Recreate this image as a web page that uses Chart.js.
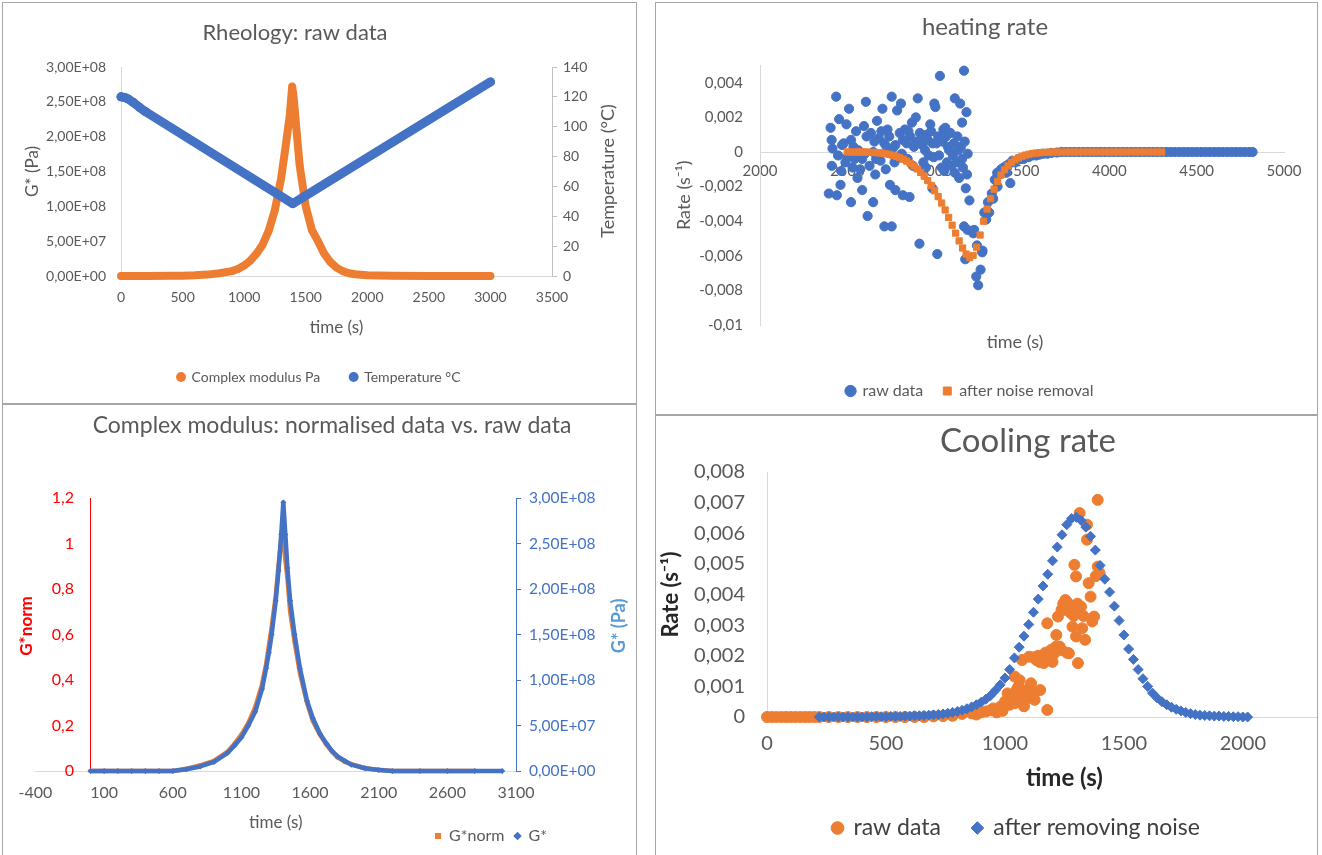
<!DOCTYPE html>
<html>
<head>
<meta charset="utf-8">
<title>Rheology charts</title>
<script src="https://cdn.jsdelivr.net/npm/chart.js@4.4.1/dist/chart.umd.min.js"></script>
<style>
  body { margin: 0; width: 1322px; height: 855px; overflow: hidden; background: #fff; position: relative; }
  .panel { position: absolute; box-sizing: border-box; border: 1px solid #a6a6a6; overflow: hidden; background: #fff; }
  .panel canvas { position: absolute; left: 0; top: 0; }
  #p1 { left: 2px; top: 2px; width: 635px; height: 402px; }
  #p2 { left: 2px; top: 404px; width: 635px; height: 470px; }
  #p3 { left: 655px; top: 2px; width: 663px; height: 413px; }
  #p4 { left: 655px; top: 415px; width: 663px; height: 460px; }
</style>
</head>
<body>
<div class="panel" id="p1"><canvas id="c1" width="632" height="399"></canvas></div>
<div class="panel" id="p2"><canvas id="c2" width="632" height="451"></canvas></div>
<div class="panel" id="p3"><canvas id="c3" width="660" height="411"></canvas></div>
<div class="panel" id="p4"><canvas id="c4" width="744" height="439"></canvas></div>
<script>
// ---- Rheology: raw data ----
const modTime = [0, 200, 400, 500, 600, 700, 800, 850, 900, 950, 1000, 1050, 1100, 1150, 1200, 1250, 1300, 1340, 1370, 1390,
  1400, 1420, 1450, 1500, 1550, 1600, 1650, 1700, 1750, 1800, 1850, 1900, 2000, 2200, 2500, 3000];
const modVal = [0, 0, 2e5, 5e5, 1e6, 2e6, 4e6, 5.5e6, 7e6, 1e7, 1.5e7, 2.2e7, 3.2e7, 4.5e7, 6.5e7, 9.5e7, 1.4e8, 1.9e8, 2.3e8, 2.72e8,
  2.6e8, 2.2e8, 1.6e8, 1.0e8, 6.6e7, 5.0e7, 3.2e7, 2.0e7, 1.2e7, 7e6, 4e6, 2.5e6, 1e6, 3e5, 0, 0];
const tempTime = [0, 30, 60, 100, 150, 200, 1395, 3000];
const tempVal = [120, 119.6, 118.5, 116.2, 113, 110, 48.5, 130];

// ---- Complex modulus: normalised vs raw ----
const gTime = [0, 100, 200, 300, 400, 500, 600, 700, 800, 900, 1000, 1050, 1100, 1150, 1200, 1250, 1280, 1300, 1320, 1350,
  1370, 1390, 1405, 1420, 1435, 1455, 1487, 1526, 1578, 1620, 1672, 1720, 1760, 1800, 1854, 1900, 2000, 2100, 2200, 2400,
  2600, 2800, 3000];
const gVal = [0, 0, 0, 0, 0, 0, 0, 2e6, 5e6, 1e7, 2e7, 2.8e7, 3.7e7, 5e7, 6.5e7, 9e7, 1.13e8, 1.3e8, 1.5e8, 1.87e8,
  2.2e8, 2.6e8, 2.95e8, 2.6e8, 2.23e8, 1.87e8, 1.5e8, 1.13e8, 7.7e7, 5.8e7, 4.1e7, 3e7, 2.2e7, 1.6e7, 1.1e7, 7e6, 3e6, 1e6, 0, 0,
  0, 0, 0];
const normTime = [0, 100, 200, 300, 400, 500, 600, 700, 800, 900, 1000, 1050, 1100, 1150, 1200, 1250, 1280, 1300, 1320, 1350,
  1370, 1390, 1400, 1410, 1420, 1435, 1455, 1487, 1526, 1578, 1620, 1672, 1720, 1760, 1800, 1854, 1900, 2000, 2100, 2200,
  2400, 2600, 2800];
const normVal = [0, 0, 0, 0, 0, 0, 0, 0.01, 0.025, 0.045, 0.085, 0.12, 0.16, 0.21, 0.28, 0.38, 0.47, 0.55, 0.63, 0.77,
  0.9, 1.02, 1.08, 0.98, 0.93, 0.85, 0.7, 0.57, 0.43, 0.3, 0.22, 0.16, 0.115, 0.085, 0.06, 0.04, 0.03, 0.012, 0.005, 0,
  0, 0, 0];

// ---- heating rate ----
const heatRaw = [
  [2394, -0.0024], [2404, 0.0014], [2410, 0.0007], [2411, -0.0008], [2415, 0.0002], [2436, 0.0032], [2440, -0.0025], [2447, -0.0002], [2453, 0.0019], [2461, -0.0019],
  [2465, -0.0011], [2470, 0.0004], [2479, 0.0005], [2489, -0.0006], [2495, 0.0016], [2500, -0.0003], [2510, 0.0025], [2521, 0.0007], [2521, -0.0029], [2530, -0.0009],
  [2535, 0.0003], [2542, -0.0004], [2550, 0.0012], [2558, -0.0015], [2563, 0.0001], [2574, -0.001], [2585, -0.0004], [2585, -0.0022], [2595, 0.0015], [2600, -0.0001],
  [2606, 0.0029], [2610, 0.0009], [2616, -0.0037], [2627, -0.0008], [2635, 0.0011], [2648, 0], [2648, -0.0029], [2655, 0.0006], [2660, -0.0013], [2665, -0.0004],
  [2670, 0.0018], [2680, 0.0008], [2690, -0.0005], [2695, 0.0012], [2701, 0.0025], [2712, 0.0005], [2712, -0.0043], [2720, -0.001], [2725, 0.0003], [2730, 0.0013],
  [2740, 0.0009], [2744, -0.0019], [2754, 0.0032], [2754, -0.0043], [2760, 0.0002], [2770, -0.0006], [2775, 0.0004], [2775, -0.0022], [2785, 0.0024], [2795, -0.0003],
  [2800, 0.0011], [2807, 0.0028], [2812, -0.0001], [2818, 0.0007], [2818, -0.0025], [2830, 0.0013], [2840, 0.0005], [2845, -0.0004], [2850, 0.0012], [2856, -0.0026],
  [2860, 0.0009], [2870, 0.0017], [2875, -0.0008], [2881, 0.0003], [2892, 0.002], [2895, 0.0006], [2903, 0.0031], [2913, -0.0053], [2915, 0.0011], [2924, 0.0007],
  [2930, 0.0004], [2935, -0.0006], [2945, 0.0001], [2950, -0.0009], [2955, 0.001], [2960, 0.0007], [2966, -0.0002], [2975, 0.0016], [2980, 0.0012], [2987, 0.0005],
  [2987, -0.0021], [2995, -0.0003], [2998, 0.0028], [3004, 0.0026], [3010, 0.0005], [3015, -0.0059], [3020, 0.0009], [3025, -0.0002], [3030, 0.0044], [3034, 0.0007],
  [3040, -0.0009], [3045, 0.0006], [3050, 0.0013], [3055, -0.0011], [3061, 0.0014], [3065, 0.0009], [3070, -0.0006], [3075, 0.0003], [3083, 0.0001], [3090, 0.0011],
  [3095, -0.0008], [3104, -0.0002], [3110, 0.0005], [3115, 0.0031], [3115, -0.0012], [3125, -0.0006], [3130, 0.0009], [3136, 0.0001], [3140, -0.0015], [3146, 0.0028],
  [3150, 0.0003], [3157, 0.0017], [3157, -0.0004], [3162, -0.0009], [3168, 0.0047], [3168, -0.0043], [3172, 0.0006], [3175, -0.0062], [3178, -0.0021], [3182, 0.0023],
  [3185, -0.0013], [3188, -0.0045], [3189, -0.0001], [3199, -0.0028], [3221, -0.0047], [3226, -0.0045], [3238, -0.0072], [3242, -0.0054], [3249, -0.0077], [3263, -0.0068],
  [3272, -0.0058], [3274, -0.0057], [3284, -0.0035], [3295, -0.0039], [3305, -0.0029], [3312, -0.0035], [3327, -0.0024], [3335, -0.0027], [3344, -0.0016], [3358, -0.0012],
  [3360, -0.002], [3372, -0.0013], [3380, -0.001], [3395, -0.0009], [3410, -0.0008], [3411, -0.0012], [3425, -0.0007], [3433, -0.0018], [3445, -0.0005], [3460, -0.0006],
  [3480, -0.0004], [3496, -0.0004], [3510, -0.0004], [3520, -0.0003], [3538, -0.0003], [3560, -0.0002], [3581, -0.0002], [3600, -0.00015], [3620, -0.0001], [3645, -0.0001],
  [3670, -0.00005], [3700, -0.00003], [3725, 0], [3750, 0], [3775, 0], [3800, 0], [3825, 0], [3850, 0], [3875, 0], [3900, 0],
  [3925, 0], [3950, 0], [3975, 0], [4000, 0], [4025, 0], [4050, 0], [4075, 0], [4100, 0], [4125, 0], [4150, 0],
  [4175, 0], [4200, 0], [4225, 0], [4250, 0], [4275, 0], [4300, 0], [4325, 0], [4350, 0], [4375, 0], [4400, 0],
  [4425, 0], [4450, 0], [4475, 0], [4500, 0], [4525, 0], [4550, 0], [4575, 0], [4600, 0], [4625, 0], [4650, 0],
  [4675, 0], [4700, 0], [4725, 0], [4750, 0], [4775, 0], [4800, 0], [4820, 0]
];
const heatSmoothTime = [2500, 2520, 2540, 2560, 2580, 2600, 2620, 2640, 2660, 2680, 2700, 2720, 2740, 2760, 2780, 2800, 2820, 2840, 2860, 2880,
  2900, 2920, 2940, 2960, 2980, 3000, 3020, 3040, 3060, 3080, 3100, 3120, 3140, 3160, 3180, 3200, 3220, 3240, 3260, 3280,
  3300, 3320, 3340, 3360, 3380, 3400, 3420, 3440, 3460, 3480, 3500, 3520, 3540, 3560, 3580, 3600, 3620, 3640, 3660, 3680,
  3700, 3730, 3760, 3790, 3820, 3850, 3880, 3910, 3940, 3970, 4000, 4030, 4060, 4090, 4120, 4150, 4180, 4210, 4240, 4270, 4300];
const heatSmoothRate = [0, 0, 0, 0, 0, 0, -0.00001, -0.00002, -0.00003, -0.00005, -0.00007, -0.0001, -0.00014, -0.00019, -0.00025, -0.00033, -0.00042, -0.00053, -0.00066, -0.00081,
  -0.00098, -0.00118, -0.0014, -0.00165, -0.00193, -0.00224, -0.00258, -0.00295, -0.00335, -0.00378, -0.00423, -0.00469, -0.00514, -0.00555, -0.0059, -0.0061, -0.00598, -0.0055, -0.0048, -0.004,
  -0.0033, -0.0027, -0.00215, -0.0017, -0.00133, -0.00103, -0.0008, -0.0006, -0.00045, -0.00034, -0.00025, -0.00018, -0.00013, -0.00009, -0.00006, -0.00004, -0.00003, -0.00002, -0.00001, 0,
  0, 0, 0, 0, 0, 0, 0, 0, 0, 0, 0, 0, 0, 0, 0, 0, 0, 0, 0, 0, 0];

// ---- Cooling rate ----
const coolRaw = [
  [0, 0], [20, 0], [40, 0], [60, 0], [80, 0], [100, 0], [120, 0], [140, 0], [160, 0], [180, 0], [200, 0], [220, 0],
  [260, 0], [300, 0], [340, 0], [380, 0], [420, 0], [460, 0], [500, 0], [540, 0], [580, 0], [620, 0], [660, 0], [700, 0.00002],
  [740, 0.00003], [780, 0.00004], [820, 0.0001], [860, 0.00012], [880, 0.00008], [900, 0.00015],
  [920, 0.00018], [940, 0.00022], [951, 0.00028], [965, 0.00015], [981, 0.00034], [990, 0.0002], [1000, 0.0005], [1011, 0.00077], [1020, 0.0004], [1030, 0.0006],
  [1041, 0.00045], [1041, 0.00132], [1050, 0.0009], [1057, 0.001], [1062, 0.0012], [1070, 0.0007], [1072, 0.00186], [1080, 0.00035], [1087, 0.00056], [1095, 0.0009],
  [1102, 0.00088], [1102, 0.00197], [1110, 0.0011], [1118, 0.0007], [1120, 0.00195], [1125, 0.00056], [1132, 0.00186], [1140, 0.002], [1145, 0.0018], [1148, 0.00088],
  [1155, 0.0019], [1163, 0.00176], [1170, 0.0021], [1178, 0.00023], [1178, 0.00306], [1185, 0.00195], [1190, 0.002], [1195, 0.0022], [1200, 0.0018], [1208, 0.00208],
  [1215, 0.0023], [1216, 0.00268], [1223, 0.00328], [1225, 0.0022], [1230, 0.0023], [1238, 0.00219], [1238, 0.0035], [1245, 0.0037], [1248, 0.0035], [1254, 0.00382],
  [1260, 0.0021], [1262, 0.00375], [1269, 0.00361], [1269, 0.00208], [1276, 0.0034], [1280, 0.00355], [1284, 0.00295], [1290, 0.0033], [1292, 0.00497], [1299, 0.00459],
  [1299, 0.00263], [1305, 0.0037], [1307, 0.00176], [1314, 0.00666], [1315, 0.0034], [1320, 0.0036], [1325, 0.0029], [1330, 0.0033], [1337, 0.00252], [1345, 0.00628],
  [1345, 0.00579], [1352, 0.00437], [1360, 0.00393], [1367, 0.00312], [1375, 0.00328], [1382, 0.0046], [1390, 0.00709], [1390, 0.00491], [1398, 0.0047]
];
const coolSmoothTime = [220, 240, 260, 280, 300, 320, 340, 360, 380, 400,
  420, 440, 460, 480, 500, 520, 540, 560, 580, 600,
  620, 640, 660, 680, 700, 720, 740, 760, 780, 800,
  820, 840, 860, 880, 900, 920, 940, 960, 980, 1000,
  1020, 1040, 1060, 1080, 1100, 1120, 1140, 1160, 1180, 1200,
  1220, 1240, 1260, 1280, 1300, 1320, 1340, 1360, 1380, 1400,
  1420, 1440, 1460, 1480, 1500, 1520, 1540, 1560, 1580, 1600,
  1620, 1640, 1660, 1680, 1700, 1720, 1740, 1760, 1780, 1800,
  1820, 1840, 1860, 1880, 1900, 1920, 1940, 1960, 1980, 2000, 2020];
const coolSmoothRate = [0, 0, 0, 0, 0, 0, 0, 0, 0, 0,
  0, 0.00001, 0.00001, 0.00001, 0.00001, 0.00002, 0.00002, 0.00002, 0.00003, 0.00003,
  0.00004, 0.00004, 0.00005, 0.00006, 0.00007, 0.00008, 0.0001, 0.00012, 0.00015, 0.00018,
  0.00022, 0.00027, 0.00033, 0.0004, 0.00048, 0.00058, 0.0007, 0.00087, 0.00105, 0.00127,
  0.00155, 0.00193, 0.00228, 0.00264, 0.00302, 0.00342, 0.00385, 0.00428, 0.00466, 0.0051,
  0.00555, 0.00595, 0.00628, 0.00648, 0.00652, 0.00642, 0.0062, 0.0059, 0.00545, 0.00495,
  0.0045, 0.00408, 0.00362, 0.00315, 0.00268, 0.00222, 0.00188, 0.00155, 0.00125, 0.001,
  0.00078, 0.00062, 0.0005, 0.0004, 0.00032, 0.00025, 0.0002, 0.00015, 0.00011, 0.00008,
  0.00006, 0.00005, 0.00004, 0.00003, 0.00003, 0.00002, 0.00002, 0.00001, 0.00001, 0, 0];

const ORANGE = '#ed7d31';
const BLUE = '#4472c4';
const AXIS = '#d9d9d9';
const TEXT = '#595959';
const RED = '#ff0000';
const FONT = "Lato, 'Liberation Sans', sans-serif";

Chart.defaults.font.family = FONT;
Chart.defaults.color = TEXT;
Chart.defaults.animation = false;

const pts = (xs, ys) => xs.map((x, i) => ({ x, y: ys[i] }));
const pairs = arr => arr.map(([x, y]) => ({ x, y }));
const plain = v => String(v);
const comma = v => String(Math.round(v * 1e6) / 1e6).replace('.', ',');
const sci = v => {
  const [m, e] = v.toExponential(2).split('e');
  const n = Number(e);
  return m.replace('.', ',') + 'E' + (n < 0 ? '-' : '+') + String(Math.abs(n)).padStart(2, '0');
};
const fixWidth = w => s => { s.width = w; };
const fixHeight = h => s => { s.height = h; };
const byIndex = (a, b) => a.datasetIndex - b.datasetIndex;
const noGrid = { display: false, drawTicks: false };

// free text drawn on the canvas (titles and rotated axis titles)
function textLayer(items) {
  return {
    id: 'textLayer',
    afterDraw(chart) {
      const ctx = chart.ctx;
      items.forEach(t => {
        ctx.save();
        ctx.translate(t.x, t.y);
        ctx.rotate((t.rot || 0) * Math.PI / 180);
        ctx.font = t.font;
        ctx.fillStyle = t.color || TEXT;
        ctx.textAlign = 'center';
        ctx.textBaseline = 'middle';
        ctx.fillText(t.text, 0, 0);
        ctx.restore();
      });
    }
  };
}

// move the right edge of a bottom legend (the legend sits left of the right axis)
const legendRightAt = x => ({
  id: 'legendRightAt',
  beforeDraw(chart) { chart.legend.right = x; }
});

// 1. Rheology: raw data
new Chart(document.getElementById('c1'), {
  type: 'scatter',
  data: {
    datasets: [
      {
        label: 'Complex modulus Pa', data: pts(modTime, modVal), yAxisID: 'y', showLine: true,
        borderColor: ORANGE, backgroundColor: ORANGE, borderWidth: 8, pointRadius: 3.5, pointBorderWidth: 0,
        pointStyle: 'circle', borderJoinStyle: 'round', borderCapStyle: 'round', clip: false, order: 1
      },
      {
        label: 'Temperature °C', data: pts(tempTime, tempVal), yAxisID: 'y2', showLine: true,
        borderColor: BLUE, backgroundColor: BLUE, borderWidth: 9, pointRadius: 4.5, pointBorderWidth: 0,
        pointStyle: 'circle', borderJoinStyle: 'round', borderCapStyle: 'round', clip: false, order: 0
      }
    ]
  },
  options: {
    responsive: false,
    layout: { padding: { top: 64, bottom: 8, left: 0, right: 0 } },
    scales: {
      x: {
        type: 'linear', min: 0, max: 3500, afterFit: fixHeight(64),
        grid: noGrid, border: { color: AXIS },
        ticks: { stepSize: 500, padding: 12.6, font: { size: 14 }, maxRotation: 0, autoSkip: false, callback: plain },
        title: { display: true, text: 'time (s)', font: { size: 17 }, padding: { top: 0, bottom: 1.8 } }
      },
      y: {
        type: 'linear', position: 'left', min: 0, max: 3e8, afterFit: fixWidth(118),
        grid: noGrid, border: { color: AXIS },
        ticks: { stepSize: 5e7, padding: 15, font: { size: 14 }, callback: v => sci(v) },
        title: { display: true, text: 'G* (Pa)', font: { size: 17 }, padding: { top: 19.8, bottom: 0 } }
      },
      y2: {
        type: 'linear', position: 'right', min: 0, max: 140, afterFit: fixWidth(83),
        grid: { drawOnChartArea: false, drawTicks: true, tickLength: 5, color: '#bfbfbf' },
        border: { color: '#bfbfbf' },
        ticks: { stepSize: 20, padding: 6, font: { size: 14 } }
      }
    },
    plugins: {
      legend: {
        position: 'bottom',
        labels: { usePointStyle: true, boxWidth: 7, boxHeight: 7, padding: 30, font: { size: 14 }, color: TEXT, sort: byIndex }
      },
      tooltip: { enabled: false }
    }
  },
  plugins: [textLayer([
    { text: 'Rheology: raw data', x: 292, y: 30, font: '22px ' + FONT },
    { text: 'Temperature (°C)', x: 605, y: 168, rot: -90, font: '18px ' + FONT }
  ])]
});

// 2. Complex modulus: normalised data vs. raw data
new Chart(document.getElementById('c2'), {
  type: 'scatter',
  data: {
    datasets: [
      {
        label: 'G*norm', data: pts(normTime, normVal), yAxisID: 'y', showLine: true,
        borderColor: ORANGE, backgroundColor: ORANGE, borderWidth: 4.5, pointRadius: 2.6, pointBorderWidth: 0,
        pointStyle: 'rect', borderJoinStyle: 'round', clip: false, order: 1
      },
      {
        label: 'G*', data: pts(gTime, gVal), yAxisID: 'y2', showLine: true,
        borderColor: BLUE, backgroundColor: BLUE, borderWidth: 4.5, pointRadius: 3, pointBorderWidth: 0,
        pointStyle: 'rectRot', borderJoinStyle: 'round', clip: false, order: 0
      }
    ]
  },
  options: {
    responsive: false,
    layout: { padding: { top: 93, bottom: 2, left: 32.5, right: 0 } },
    scales: {
      x: {
        type: 'linear', min: -400, max: 3100, afterFit: fixHeight(47),
        grid: noGrid, border: { color: AXIS },
        ticks: { stepSize: 500, padding: 12, font: { size: 16 }, maxRotation: 0, autoSkip: false, callback: plain },
        title: { display: true, text: 'time (s)', font: { size: 17 }, padding: { top: 0, bottom: -15.2 } }
      },
      y: {
        type: 'linear', axis: 'y', position: { x: 0 }, min: 0, max: 1.2,
        grid: noGrid, border: { color: RED },
        ticks: { stepSize: 0.2, color: RED, font: { size: 16 }, callback: v => comma(v) + '    ' }
      },
      y2: {
        type: 'linear', position: 'right', min: 0, max: 3e8, afterFit: fixWidth(119),
        grid: { drawOnChartArea: false, drawTicks: true, tickLength: 5, color: BLUE },
        border: { color: BLUE },
        ticks: { stepSize: 5e7, padding: 8, color: BLUE, font: { size: 15.5 }, callback: v => sci(v) }
      }
    },
    plugins: {
      legend: {
        position: 'bottom', align: 'end',
        labels: { usePointStyle: true, boxWidth: 6, boxHeight: 6, padding: 10, font: { size: 16 }, color: TEXT, sort: byIndex }
      },
      tooltip: { enabled: false }
    }
  },
  plugins: [legendRightAt(554), textLayer([
    { text: 'Complex modulus: normalised data vs. raw data', x: 329, y: 21, font: '23px ' + FONT },
    { text: 'G*norm', x: 24, y: 221, rot: -90, font: 'bold 17px ' + FONT, color: RED },
    { text: 'G* (Pa)', x: 616, y: 221, rot: -90, font: 'bold 18px ' + FONT, color: '#5b9bd5' }
  ])]
});

// 3. heating rate
new Chart(document.getElementById('c3'), {
  type: 'scatter',
  data: {
    datasets: [
      {
        label: 'raw data', data: pairs(heatRaw),
        borderColor: BLUE, backgroundColor: BLUE, pointRadius: 4.6, pointStyle: 'circle', clip: false, order: 1
      },
      {
        label: 'after noise removal', data: pts(heatSmoothTime, heatSmoothRate),
        borderColor: ORANGE, backgroundColor: ORANGE, pointRadius: 4.4, pointStyle: 'rect', clip: false, order: 0
      }
    ]
  },
  options: {
    responsive: false,
    layout: { padding: { top: 62.5, bottom: 5, left: 0, right: 32 } },
    scales: {
      x: {
        type: 'linear', axis: 'x', position: { y: 0 }, min: 2000, max: 5000,
        grid: noGrid, border: { color: AXIS },
        ticks: { stepSize: 500, padding: 10.5, font: { size: 15 }, maxRotation: 0, autoSkip: false, callback: plain }
      },
      y: {
        type: 'linear', position: 'left', min: -0.01, max: 0.005, afterFit: fixWidth(104),
        grid: noGrid, border: { color: AXIS },
        ticks: {
          stepSize: 0.002, padding: 17, font: { size: 15 }, autoSkip: false,
          callback: v => (Math.abs(v - 0.005) < 1e-9 ? '' : comma(v))
        },
        title: { display: true, text: 'Rate (s⁻¹)', font: { size: 18 }, padding: { top: 17.2, bottom: 0 } }
      }
    },
    plugins: {
      legend: {
        position: 'bottom',
        title: { display: true, text: '', font: { size: 10 }, padding: { top: 26, bottom: 0 } },
        labels: { usePointStyle: true, boxWidth: 8, boxHeight: 8, padding: 20, font: { size: 16 }, color: TEXT, sort: byIndex }
      },
      tooltip: { enabled: false }
    }
  },
  plugins: [textLayer([
    { text: 'heating rate', x: 329, y: 24, font: '24px ' + FONT },
    { text: 'time (s)', x: 359, y: 339, font: '18px ' + FONT }
  ])]
});

// 4. Cooling rate
new Chart(document.getElementById('c4'), {
  type: 'scatter',
  data: {
    datasets: [
      {
        label: 'raw data', data: pairs(coolRaw),
        borderColor: ORANGE, backgroundColor: ORANGE, pointRadius: 5.5, pointStyle: 'circle', clip: false, order: 1
      },
      {
        label: 'after removing noise', data: pts(coolSmoothTime, coolSmoothRate),
        borderColor: BLUE, backgroundColor: BLUE, pointRadius: 5, pointStyle: 'rectRot', clip: false, order: 0
      }
    ]
  },
  options: {
    responsive: false,
    layout: { padding: { top: 56, bottom: 5.5, left: 0, right: 23 } },
    scales: {
      x: {
        type: 'linear', min: 0, max: 2500, afterFit: fixHeight(67.5),
        grid: noGrid, border: { color: AXIS },
        ticks: { stepSize: 500, padding: 15, font: { size: 20 }, maxRotation: 0, autoSkip: false, callback: plain },
        title: { display: true, text: 'time (s)', color: '#262626', font: { size: 24, weight: 'bold' }, padding: { top: 0, bottom: -7.9 } }
      },
      y: {
        type: 'linear', position: 'left', min: 0, max: 0.008, afterFit: fixWidth(111),
        grid: noGrid, border: { color: AXIS },
        ticks: { stepSize: 0.001, padding: 22, font: { size: 20 }, autoSkip: false, callback: v => comma(v) },
        title: { display: true, text: 'Rate (s⁻¹)', color: '#262626', font: { size: 22, weight: 'bold' }, padding: { top: 1.8, bottom: 0 } }
      }
    },
    plugins: {
      legend: {
        position: 'bottom',
        labels: { usePointStyle: true, boxWidth: 9, boxHeight: 9, padding: 32, font: { size: 23 }, color: '#404040', sort: byIndex }
      },
      tooltip: { enabled: false }
    }
  },
  plugins: [textLayer([
    { text: 'Cooling rate', x: 372, y: 25, font: '33px ' + FONT }
  ])]
});
</script>
</body>
</html>
